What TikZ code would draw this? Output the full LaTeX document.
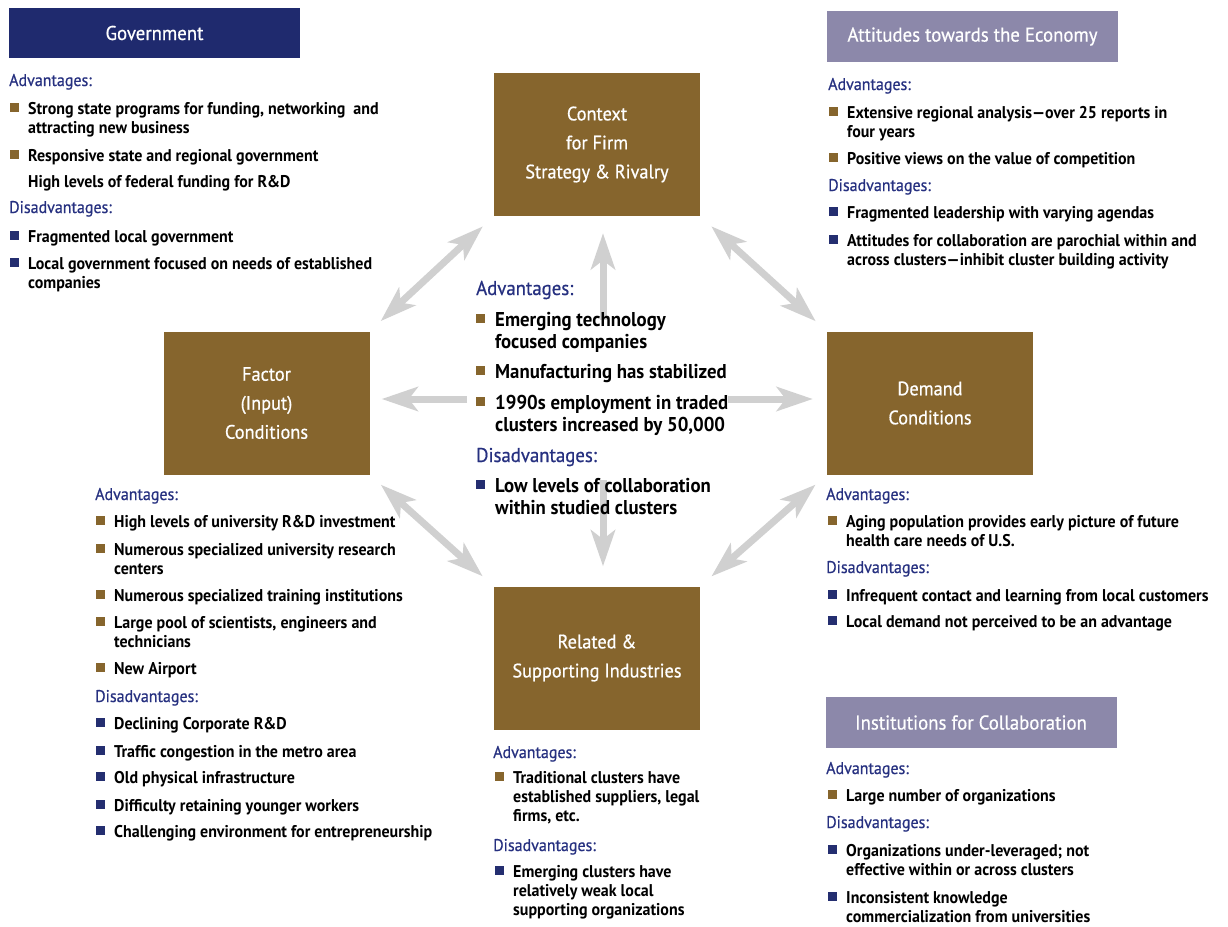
\documentclass[tikz,border=0pt]{standalone}
\usepackage{fontspec}
\setmainfont{PT Sans}[FakeStretch=0.94]
\newfontfamily\medfont{PT Sans}[FakeStretch=0.94, FakeBold=0.6]
\usetikzlibrary{arrows.meta}
\definecolor{brownbox}{RGB}{134,101,45}
\definecolor{navyhdr}{RGB}{31,42,110}
\definecolor{navybul}{RGB}{36,46,112}
\definecolor{labblue}{RGB}{38,48,128}
\definecolor{lavender}{RGB}{140,136,170}
\definecolor{arrgray}{RGB}{208,208,208}
\tikzset{
  body/.style={font=\fontsize{17}{19}\selectfont\bfseries, inner sep=0pt, anchor=base west, align=left},
  bigbody/.style={font=\fontsize{20}{22}\selectfont\bfseries, inner sep=0pt, anchor=base west, align=left},
  lab/.style={font=\medfont\fontsize{17}{18}\selectfont, text=labblue, inner sep=0pt, anchor=base west},
  biglab/.style={font=\medfont\fontsize{20}{22}\selectfont, text=labblue, inner sep=0pt, anchor=base west},
  bulA/.style={fill=brownbox, minimum size=9.5pt, inner sep=0pt},
  bulD/.style={fill=navybul, minimum size=9.5pt, inner sep=0pt},
  pbox/.style={fill=brownbox, text=white, minimum width=206pt, minimum height=143pt, inner sep=0pt,
    font=\medfont\fontsize{19.5}{29}\selectfont, align=center},
  hdr/.style={text=white, minimum width=291pt, minimum height=50.5pt, inner sep=0pt,
    font=\medfont\fontsize{20}{22}\selectfont},
  tipA/.tip={Stealth[length=36pt,width=24pt,inset=9pt]},
  dbl/.style={draw=arrgray, line width=7pt, tipA-tipA, shorten <=15pt, shorten >=15pt},
  sgl/.style={draw=arrgray, line width=7pt, -tipA},
}
% name, x, baseline of first line, number of lines, text
\newcommand\Lab[4]{\node[lab] (#1) at (#2,#3) {#4};}
\newcommand\BLab[4]{\node[biglab] (#1) at (#2,#3) {#4};}
\newcommand\ItA[5]{\node[bulA] (#1b) at (#2-13.5,#3-6.5) {};\node[body] (#1) at (#2,{#3+(#4-1)*19}) {#5};}
\newcommand\ItD[5]{\node[bulD] (#1b) at (#2-13.5,#3-6.5) {};\node[body] (#1) at (#2,{#3+(#4-1)*19}) {#5};}
\newcommand\BItA[5]{\node[bulA] (#1b) at (#2-14.5,#3-7.5) {};\node[bigbody] (#1) at (#2,{#3+(#4-1)*22}) {#5};}
\newcommand\BItD[5]{\node[bulD] (#1b) at (#2-14.5,#3-7.5) {};\node[bigbody] (#1) at (#2,{#3+(#4-1)*22}) {#5};}
\begin{document}
\begin{tikzpicture}[x=1pt,y=-1pt]
\fill[white] (0,0) rectangle (1228,926);
\useasboundingbox (0,0) rectangle (1228,926);

% headers
\node[hdr, fill=navyhdr] (govh) at (154.5,33) {Government};
\node[hdr, fill=lavender] (atth) at (972.5,36.5) {Attitudes towards the Economy};
\node[hdr, fill=lavender] (insth) at (971,722.5) {Institutions for Collaboration};

% diamond boxes
\node[pbox] (context) at (597,144.5) {Context\\for Firm\\Strategy \& Rivalry};
\node[pbox] (factor) at (266.5,403) {Factor\\(Input)\\Conditions};
\node[pbox] (demand) at (930,403) {Demand\\Conditions};
\node[pbox] (related) at (597,658) {Related \&\\Supporting Industries};

% arrows
\draw[dbl] (factor.north east) -- (context.south west);
\draw[dbl] (context.south east) -- (demand.north west);
\draw[dbl] (factor.south east) -- (related.north west);
\draw[dbl] (demand.south west) -- (related.north east);
\coordinate (cU) at (603,320);
\coordinate (cD) at (603,480);
\coordinate (cL) at (467,399);
\coordinate (cR) at (728,399);
\draw[sgl, shorten >=17pt] (cU) -- (cU |- context.south);
\draw[sgl, shorten >=20pt] (cD) -- (cD |- related.north);
\draw[sgl, shorten >=12pt] (cL) -- (cL -| factor.east);
\draw[sgl, shorten >=14pt] (cR) -- (cR -| demand.west);

% Government
\Lab{gA}{9}{86}{Advantages:}
\ItA{g1}{28}{114}{2}{Strong state programs for funding, networking \ and\\attracting new business}
\ItA{g2}{28}{161}{1}{Responsive state and regional government}
\node[body] (g3) at (28,187) {High levels of federal funding for R\&D};
\Lab{gD}{9}{213}{Disadvantages:}
\ItD{g4}{28}{242}{1}{Fragmented local government}
\ItD{g5}{28}{269}{2}{Local government focused on needs of established\\companies}

% Attitudes
\Lab{aA}{828}{90}{Advantages:}
\ItA{a1}{847}{118}{2}{Extensive regional analysis—over 25 reports in\\four years}
\ItA{a2}{847}{164}{1}{Positive views on the value of competition}
\Lab{aD}{828}{191}{Disadvantages:}
\ItD{a3}{847}{218}{1}{Fragmented leadership with varying agendas}
\ItD{a4}{847}{246}{2}{Attitudes for collaboration are parochial within and\\across clusters—inhibit cluster building activity}

% Center
\BLab{cA}{476}{295}{Advantages:}
\BItA{c1}{495}{326}{2}{Emerging technology\\focused companies}
\BItA{c2}{495}{378}{1}{Manufacturing has stabilized}
\BItA{c3}{495}{409}{2}{1990s employment in traded\\clusters increased by 50,000}
\BLab{cDl}{476}{462}{Disadvantages:}
\BItD{c4}{495}{492}{2}{Low levels of collaboration\\within studied clusters}

% Factor
\Lab{fA}{95}{500}{Advantages:}
\ItA{f1}{114}{527}{1}{High levels of university R\&D investment}
\ItA{f2}{114}{555}{2}{Numerous specialized university research\\centers}
\ItA{f3}{114}{601}{1}{Numerous specialized training institutions}
\ItA{f4}{114}{628}{2}{Large pool of scientists, engineers and\\technicians}
\ItA{f5}{114}{674}{1}{New Airport}
\Lab{fD}{95}{702}{Disadvantages:}
\ItD{f6}{114}{729}{1}{Declining Corporate R\&D}
\ItD{f7}{114}{757}{1}{Traffic congestion in the metro area}
\ItD{f8}{114}{783}{1}{Old physical infrastructure}
\ItD{f9}{114}{811}{1}{Difficulty retaining younger workers}
\ItD{f10}{114}{837}{1}{Challenging environment for entrepreneurship}

% Related
\Lab{rA}{493}{758}{Advantages:}
\ItA{r1}{513}{783}{3}{Traditional clusters have\\established suppliers, legal\\firms, etc.}
\Lab{rD}{493}{851}{Disadvantages:}
\ItD{r2}{513}{877}{3}{Emerging clusters have\\relatively weak local\\supporting organizations}

% Demand
\Lab{dA}{826}{500}{Advantages:}
\ItA{d1}{846}{527}{2}{Aging population provides early picture of future\\health care needs of U.S.}
\Lab{dD}{826}{573}{Disadvantages:}
\ItD{d2}{846}{601}{1}{Infrequent contact and learning from local customers}
\ItD{d3}{846}{627}{1}{Local demand not perceived to be an advantage}

% Institutions
\Lab{iA}{826}{774}{Advantages:}
\ItA{i1}{846}{801}{1}{Large number of organizations}
\Lab{iD}{826}{828}{Disadvantages:}
\ItD{i2}{846}{856}{2}{Organizations under-leveraged; not\\effective within or across clusters}
\ItD{i3}{846}{903}{2}{Inconsistent knowledge\\commercialization from universities}
\end{tikzpicture}
\end{document}
